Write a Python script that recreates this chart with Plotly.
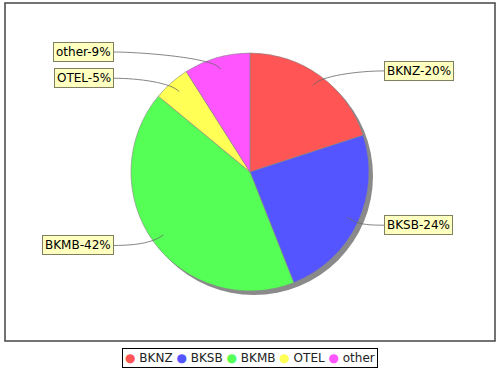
import math
import plotly.graph_objects as go

categories = ["BKNZ", "BKSB", "BKMB", "OTEL", "other"]
values = [20, 24, 42, 5, 9]
colors = ["#FF5555", "#5555FF", "#55FF55", "#FFFF55", "#FF55FF"]

W, H = 500, 370
cx, cy, R = 250, 172, 119
FONT = "DejaVu Sans"


def px(x):
    return x / W


def py(y):
    return 1 - y / H


fig = go.Figure()


def dom(x0, x1, y0, y1):
    return dict(x=[px(x0), px(x1)], y=[py(y1), py(y0)])


# shadow
fig.add_trace(go.Pie(values=[1], labels=["s"], marker=dict(colors=["#8a8a8a"]),
                     domain=dom(cx - R + 4, cx + R + 4, cy - R + 4, cy + R + 4),
                     textinfo="none", hoverinfo="skip", showlegend=False, sort=False))
fig.add_trace(go.Pie(values=values, labels=categories,
                     marker=dict(colors=colors, line=dict(color="#888888", width=0.6)),
                     domain=dom(cx - R, cx + R, cy - R, cy + R),
                     direction="clockwise", rotation=0, sort=False,
                     textinfo="none", showlegend=False))

total = sum(values)
shapes = []
annotations = []
cum = 0
for c, v in zip(categories, values):
    mid = (cum + v / 2) / total
    cum += v
    th = 2 * math.pi * mid
    s, co = math.sin(th), math.cos(th)
    ax_, ay_ = cx + 0.9 * R * s, cy - 0.9 * R * co
    ly = cy - 1.05 * R * co
    right = s > 0
    lx = cx + 134 if right else cx - 136
    p1x, p1y = cx + R * s, cy - R * co
    p2x = lx - 25 if right else lx + 25
    shapes.append(dict(type="path", xref="paper", yref="paper",
                       path=f"M {px(ax_)},{py(ay_)} C {px(p1x)},{py(p1y)} {px(p2x)},{py(ly)} {px(lx)},{py(ly)}",
                       line=dict(color="#666666", width=0.8)))
    txt = f"{c}-{round(100 * v / total)}%"
    xa = "left" if right else "right"
    annotations.append(dict(x=px(lx), y=py(ly), xref="paper", yref="paper", text=txt, showarrow=False,
                            xanchor=xa, yanchor="middle",
                            font=dict(family=FONT, size=12, color="black"),
                            bgcolor="#FFFFC0", borderpad=2, borderwidth=1, bordercolor="#808060"))

# plot area border
shapes.append(dict(type="rect", xref="paper", yref="paper", x0=px(5), x1=px(495), y0=py(341), y1=py(3),
                   line=dict(color="#444444", width=1.5), layer="below"))

# legend
legend_txt = " ".join(f"<span style='color:{col}'>●</span> {c}" for c, col in zip(categories, colors))
annotations.append(dict(x=px(250), y=py(358), xref="paper", yref="paper", text=legend_txt,
                        showarrow=False, xanchor="center", yanchor="middle",
                        font=dict(family=FONT, size=12, color="#222222"),
                        bgcolor="white", borderpad=2, borderwidth=1, bordercolor="black"))

fig.update_layout(
    width=W, height=H, autosize=False,
    margin=dict(l=0, r=0, t=0, b=0),
    paper_bgcolor="white", plot_bgcolor="white",
    shapes=shapes, annotations=annotations,
    showlegend=False,
)

fig.write_html("out.html", config={"displayModeBar": False},
               post_script="document.body.style.margin='0';document.body.style.overflow='hidden';")
